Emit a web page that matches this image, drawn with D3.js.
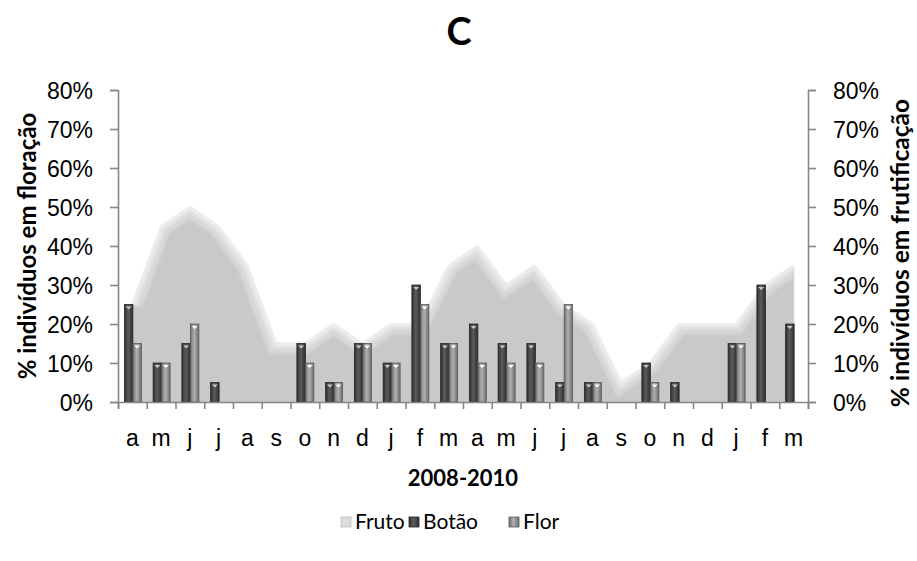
<!DOCTYPE html>
<html>
<head>
<meta charset="utf-8">
<script src="https://cdn.jsdelivr.net/npm/d3@7"></script>
<style>
  body { margin: 0; background: #fff; }
  svg { display: block; font-family: Lato, "Open Sans", sans-serif; }
</style>
</head>
<body>
<svg id="chart" width="917" height="561"></svg>
<script>
// --- data (2008-2010, monthly) ---
const months = ['a','m','j','j','a','s','o','n','d','j','f','m','a','m','j','j','a','s','o','n','d','j','f','m'];
const fruto = [25,45,50,45,35,15,15,20,15,20,20,35,40,30,35,25,20,5,10,20,20,20,30,35];
const botao = [25,10,15,5,0,0,15,5,15,10,30,15,20,15,15,5,5,0,10,5,0,15,30,20];
const flor  = [15,10,20,0,0,0,10,5,15,10,25,15,10,10,10,25,5,0,5,0,0,15,0,0];
const yTicks = [0,10,20,30,40,50,60,70,80];
const legendItems = ['Fruto','Botão','Flor'];

const svg = d3.select('#chart');
const plotLeft = 118, plotRight = 808, plotTop = 90, plotBottom = 402;
const axisColor = '#878787';

const x = d3.scaleBand().domain(d3.range(months.length)).range([plotLeft, plotRight]).padding(0);
const xEdges = d3.scaleLinear().domain([0, months.length]).range([plotLeft, plotRight]);
const y = d3.scaleLinear().domain([0, 80]).range([plotBottom, plotTop]);
const inner = d3.scaleBand().domain(['Botão','Flor']).range([-8, 9]);
const cx = i => x(i) + x.bandwidth() / 2;

const defs = svg.append('defs');
function cyl(id, edge, mid) {
    const g = defs.append('linearGradient').attr('id', id).attr('x1', 0).attr('x2', 1).attr('y1', 0).attr('y2', 0);
    g.append('stop').attr('offset', '0%').attr('stop-color', edge);
    g.append('stop').attr('offset', '45%').attr('stop-color', mid);
    g.append('stop').attr('offset', '100%').attr('stop-color', edge);
}
cyl('gBotao', '#2e2e2e', '#5c5c5c');
cyl('gFlor', '#6e6e6e', '#b0b0b0');
defs.append('filter').attr('id', 'soft').append('feGaussianBlur').attr('stdDeviation', 1.2);

// --- Fruto area ---
const area = d3.area().x((d, i) => cx(i)).y0(plotBottom).y1(d => y(d));
const line = d3.line().x((d, i) => cx(i)).y(d => y(d));
defs.append('clipPath').attr('id', 'areaClip').append('path').attr('d', area(fruto));

svg.append('path').attr('d', area(fruto)).attr('fill', '#c9c9c9').attr('filter', 'url(#soft)');
svg.append('path').attr('d', area(fruto)).attr('fill', '#c9c9c9');
const bevel = svg.append('g').attr('clip-path', 'url(#areaClip)');
bevel.append('path').attr('d', line(fruto)).attr('fill', 'none').attr('stroke', '#d8d8d8').attr('stroke-width', 20).attr('filter', 'url(#soft)');
bevel.append('path').attr('d', line(fruto)).attr('fill', 'none').attr('stroke', '#e6e6e6').attr('stroke-width', 9).attr('filter', 'url(#soft)');
bevel.append('path').attr('d', line(fruto)).attr('fill', 'none').attr('stroke', '#efefef').attr('stroke-width', 3);

// --- bars ---
function drawBars(values, key, grad, stroke, tip) {
    const g = svg.append('g');
    const w = inner.bandwidth();
    values.forEach((v, i) => {
        if (!v) return;
        const bx = cx(i) + inner(key);
        g.append('rect').attr('x', bx).attr('y', y(v)).attr('width', w).attr('height', plotBottom - y(v))
            .attr('fill', `url(#${grad})`).attr('stroke', stroke).attr('stroke-width', 0.8);
        g.append('path')
            .attr('d', `M${bx + w / 2 - 3},${y(v) + 2}L${bx + w / 2 + 3},${y(v) + 2}L${bx + w / 2},${y(v) + 5}Z`)
            .attr('fill', tip);
    });
}
drawBars(botao, 'Botão', 'gBotao', '#262626', '#c8c8c8');
drawBars(flor, 'Flor', 'gFlor', '#5a5a5a', '#ffffff');

// --- axes ---
function styleAxis(g) {
    g.selectAll('.domain, .tick line').attr('stroke', axisColor).attr('stroke-width', 1.6);
    g.selectAll('text').attr('fill', '#000').style('font-size', '23px');
}
svg.append('g').attr('transform', `translate(${plotLeft},0)`)
    .call(d3.axisLeft(y).tickValues(yTicks).tickFormat(d => d + '%').tickSizeOuter(0).tickSize(8).tickPadding(17))
    .call(styleAxis).call(g => g.selectAll('text').attr('dy', '0.36em'));
svg.append('g').attr('transform', `translate(${plotRight},0)`)
    .call(d3.axisRight(y).tickValues(yTicks).tickFormat(d => d + '%').tickSizeOuter(0).tickSize(8).tickPadding(17))
    .call(styleAxis).call(g => g.selectAll('text').attr('dy', '0.36em'));
svg.append('g').attr('transform', `translate(0,${plotBottom})`)
    .call(d3.axisBottom(xEdges).tickValues(d3.range(months.length + 1)).tickFormat('').tickSizeOuter(0).tickSize(7))
    .call(styleAxis);
svg.append('g').attr('transform', `translate(0,${plotBottom})`)
    .call(d3.axisBottom(x).tickFormat(i => months[i]).tickSize(0).tickPadding(28))
    .call(styleAxis).call(g => g.select('.domain').remove());

// --- titles ---
svg.append('text').attr('x', 459).attr('y', 45).attr('text-anchor', 'middle')
    .style('font-size', '38px').style('font-weight', 'bold').text('C');
svg.append('text').attr('x', 463).attr('y', 486).attr('text-anchor', 'middle')
    .style('font-size', '22px').style('font-weight', 'bold').text('2008-2010');
svg.append('text').attr('transform', 'translate(36,246) rotate(-90)').attr('text-anchor', 'middle')
    .style('font-size', '24px').style('font-weight', 'bold').text('% indivíduos em floração');
svg.append('text').attr('transform', 'translate(909,253) rotate(-90)').attr('text-anchor', 'middle')
    .style('font-size', '24.5px').style('font-weight', 'bold').text('% indivíduos em frutificação');

// --- legend ---
const legendX = [341, 409, 509];
const legendFill = ['#dcdcdc', 'url(#gBotao)', 'url(#gFlor)'];
const legendStroke = ['#bdbdbd', '#262626', '#5a5a5a'];
const lg = svg.append('g');
legendItems.forEach((name, i) => {
    lg.append('rect').attr('x', legendX[i]).attr('y', 517).attr('width', 10).attr('height', 10)
        .attr('fill', legendFill[i]).attr('stroke', legendStroke[i]).attr('stroke-width', 0.8);
    lg.append('text').attr('x', legendX[i] + 14).attr('y', 529).style('font-size', '21px').text(name);
});
</script>
</body>
</html>
